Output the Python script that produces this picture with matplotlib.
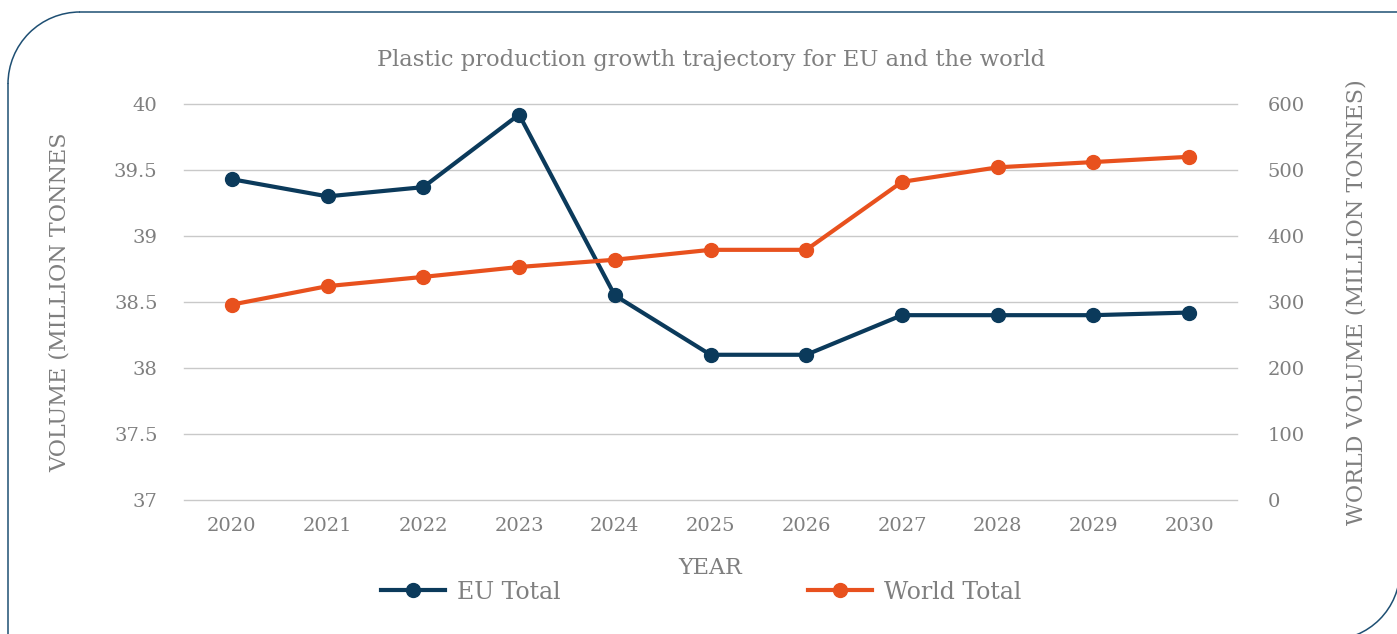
import matplotlib.pyplot as plt
from matplotlib.patches import Arc
from matplotlib.lines import Line2D
from matplotlib.transforms import IdentityTransform

years = ['2020', '2021', '2022', '2023', '2024', '2025', '2026', '2027', '2028', '2029', '2030']
eu_total = [39.43, 39.30, 39.37, 39.92, 38.55, 38.10, 38.10, 38.40, 38.40, 38.40, 38.42]
world_total = [296, 324, 338, 353, 364, 379, 379, 482, 504, 512, 520]

EU_COLOR = '#0B3A5B'
WORLD_COLOR = '#E8511E'
TEXT = '#7F7F7F'
FRAME = '#1E4F73'

plt.rcParams['font.family'] = ['DejaVu Serif']

fig = plt.figure(figsize=(13.97, 6.34), dpi=100)
ax = fig.add_axes([0.1317, 0.2114, 0.7538, 0.6246])
ax2 = ax.twinx()

x = range(len(years))
l1, = ax.plot(x, eu_total, color=EU_COLOR, lw=3, marker='o', ms=10, label='EU Total', zorder=3)
l2, = ax2.plot(x, world_total, color=WORLD_COLOR, lw=3, marker='o', ms=10, label='World Total', zorder=3)

ax.set_xlim(-0.5, len(years) - 0.5)
ax.set_ylim(37, 40)
ax.set_yticks([37, 37.5, 38, 38.5, 39, 39.5, 40])
ax.set_yticklabels(['37', '37.5', '38', '38.5', '39', '39.5', '40'])
ax2.set_ylim(0, 600)
ax2.set_yticks(range(0, 601, 100))
ax.set_xticks(list(x))
ax.set_xticklabels(years)

ax.grid(axis='y', color='#C9C9C9', lw=1)
for g in ax.get_ygridlines():
    g.set_clip_on(False)
ax.set_axisbelow(True)
ax2.set_zorder(ax.get_zorder() + 1)
ax2.patch.set_visible(False)

for a in (ax, ax2):
    for s in a.spines.values():
        s.set_visible(False)
    a.tick_params(length=0, colors=TEXT, labelsize=14)
ax.tick_params(axis='y', pad=19)
ax.tick_params(axis='x', pad=12)
ax2.tick_params(axis='y', pad=22)
for lab in ax2.get_yticklabels():
    lab.set_horizontalalignment('left')

ax.set_ylabel('VOLUME (MILLION TONNES', color=TEXT, fontsize=16)
ax.yaxis.set_label_coords(-0.108, 0.5)
ax2.set_ylabel('WORLD VOLUME (MILLION TONNES)', color=TEXT, fontsize=16)
ax2.yaxis.set_label_coords(1.103, 0.5)
ax.set_xlabel('YEAR', color=TEXT, fontsize=16)
ax.xaxis.set_label_coords(0.5, -0.145)

fig.text(0.509, 0.906, 'Plastic production growth trajectory for EU and the world',
         ha='center', va='center', color=TEXT, fontsize=16.3)

leg = fig.legend([l1, l2], ['EU Total', 'World Total'], loc='center',
                 bbox_to_anchor=(0.502, 0.066), ncol=2, frameon=False,
                 fontsize=17, handlelength=2.7, columnspacing=10.5,
                 handletextpad=0.5)
for t in leg.get_texts():
    t.set_color(TEXT)

# card outline: rounded top-left and bottom-right corners, pixel coordinates
px = IdentityTransform()
fig.add_artist(Line2D([8, 8], [550, -2], transform=px, color=FRAME, lw=1.1))
fig.add_artist(Line2D([80, 1400], [622, 622], transform=px, color=FRAME, lw=1.1))
fig.add_artist(Arc((80, 550), 144, 144, theta1=90, theta2=180, transform=px,
                   color=FRAME, lw=1.1))
fig.add_artist(Arc((1330, 64), 140, 140, theta1=270, theta2=360, transform=px,
                   color=FRAME, lw=1.1))

fig.savefig('out.png', dpi=100)
